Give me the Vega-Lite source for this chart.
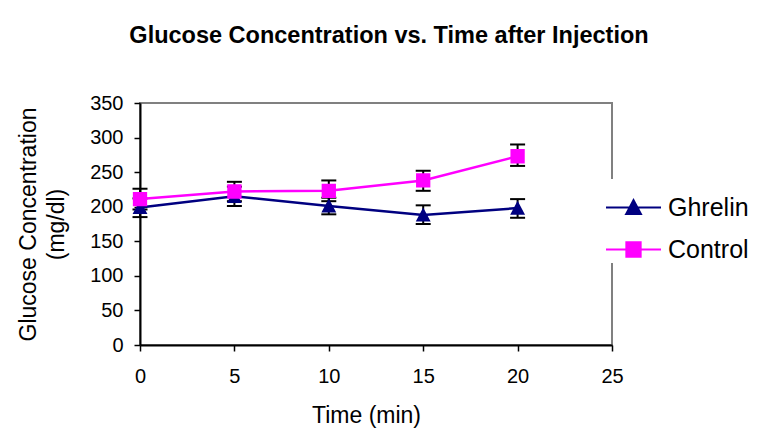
{
  "$schema": "https://vega.github.io/schema/vega-lite/v6.json",
  "autosize": "none",
  "width": 472,
  "height": 242,
  "padding": {"left": 140, "top": 103, "right": 148, "bottom": 87},
  "background": "white",
  "config": {
    "font": "Liberation Sans",
    "view": {"stroke": "#808080", "strokeWidth": 2},
    "axis": {
      "grid": false,
      "domainColor": "black",
      "domainWidth": 2,
      "tickColor": "black",
      "tickWidth": 1.5,
      "tickSize": 6,
      "labelColor": "black",
      "labelFont": "Liberation Sans",
      "labelFontSize": 20,
      "titleColor": "black",
      "titleFont": "Liberation Sans",
      "titleFontSize": 23,
      "titleFontWeight": "normal"
    }
  },
  "title": {
    "text": "Glucose Concentration vs. Time after Injection",
    "font": "Liberation Sans",
    "fontSize": 23.5,
    "fontWeight": "bold",
    "color": "black",
    "anchor": "middle",
    "frame": "group",
    "dx": 13,
    "baseline": "alphabetic",
    "offset": 27
  },
  "data": {
    "values": [
      {"time": 0, "series": "Ghrelin", "glucose": 199, "lo": 185, "hi": 212},
      {"time": 5, "series": "Ghrelin", "glucose": 215, "lo": 201, "hi": 229},
      {"time": 10, "series": "Ghrelin", "glucose": 201, "lo": 189, "hi": 213},
      {"time": 15, "series": "Ghrelin", "glucose": 188, "lo": 175, "hi": 202},
      {"time": 20, "series": "Ghrelin", "glucose": 198, "lo": 184, "hi": 211},
      {"time": 0, "series": "Control", "glucose": 211, "lo": 196, "hi": 226},
      {"time": 5, "series": "Control", "glucose": 222, "lo": 208, "hi": 236},
      {"time": 10, "series": "Control", "glucose": 223, "lo": 208, "hi": 238},
      {"time": 15, "series": "Control", "glucose": 238, "lo": 223, "hi": 252},
      {"time": 20, "series": "Control", "glucose": 273, "lo": 259, "hi": 290}
    ]
  },
  "encoding": {
    "x": {
      "field": "time",
      "type": "quantitative",
      "scale": {"domain": [0, 25], "nice": false, "zero": false},
      "axis": {
        "values": [0, 5, 10, 15, 20, 25],
        "title": "Time (min)",
        "labelFlush": false,
        "labelPadding": 15,
        "labelBaseline": "top",
        "titleX": 226,
        "titleY": 77,
        "titleBaseline": "alphabetic",
        "titleAlign": "center"
      }
    },
    "y": {
      "field": "glucose",
      "type": "quantitative",
      "scale": {"domain": [0, 350], "nice": false},
      "axis": {
        "values": [0, 50, 100, 150, 200, 250, 300, 350],
        "labelOverlap": false,
        "labelFlush": false,
        "labelFontSize": 20,
        "title": ["Glucose Concentration", "(mg/dl)"],
        "labelPadding": 11,
        "titleAngle": -90,
        "titleX": -105,
        "titleY": 121,
        "titleAlign": "center",
        "titleBaseline": "alphabetic",
        "titleLineHeight": 28
      }
    }
  },
  "layer": [
    {
      "mark": {"type": "rule", "color": "black", "strokeWidth": 2},
      "encoding": {
        "y": {"field": "lo", "type": "quantitative"},
        "y2": {"field": "hi"}
      }
    },
    {
      "mark": {"type": "tick", "orient": "horizontal", "color": "black", "size": 15, "thickness": 2, "opacity": 1},
      "encoding": {"y": {"field": "lo", "type": "quantitative"}}
    },
    {
      "mark": {"type": "tick", "orient": "horizontal", "color": "black", "size": 15, "thickness": 2, "opacity": 1},
      "encoding": {"y": {"field": "hi", "type": "quantitative"}}
    },
    {
      "mark": {"type": "line", "strokeWidth": 2.5},
      "encoding": {
        "color": {
          "field": "series",
          "type": "nominal",
          "scale": {"domain": ["Ghrelin", "Control"], "range": ["#000080", "#ff00ff"]}
        },
        "detail": {"field": "series"},
        "order": {"field": "time"}
      }
    },
    {
      "mark": {"type": "point", "filled": true, "opacity": 1, "size": 3025, "strokeWidth": 0},
      "encoding": {
        "color": {
          "field": "series",
          "type": "nominal",
          "legend": {
            "title": null,
            "orient": "none",
            "legendX": 465,
            "legendY": 76,
            "padding": 0,
            "fillColor": "white",
            "symbolSize": 3025,
            "labelFont": "Liberation Sans",
            "labelFontSize": 25,
            "labelColor": "black",
            "labelOffset": 6,
            "rowPadding": 0,
            "symbolOpacity": 1,
            "encode": {
              "symbols": {
                "update": {
                  "shape": {"signal": "datum.value === 'Ghrelin' ? 'M-1,0H1M-0.27,0.24L0,-0.27L0.27,0.24Z' : 'M-1,0H1M-0.26,-0.26H0.26V0.26H-0.26Z'"},
                  "fill": {"signal": "datum.value === 'Ghrelin' ? '#000080' : '#ff00ff'"},
                  "stroke": {"signal": "datum.value === 'Ghrelin' ? '#000080' : '#ff00ff'"},
                  "strokeWidth": {"value": 2},
                  "opacity": {"value": 1}
                }
              }
            }
          }
        },
        "shape": {
          "field": "series",
          "type": "nominal",
          "scale": {
            "domain": ["Ghrelin", "Control"],
            "range": [
              "M-1,0H1M-0.27,0.24L0,-0.27L0.27,0.24Z",
              "M-1,0H1M-0.26,-0.26H0.26V0.26H-0.26Z"
            ]
          }
        }
      }
    }
  ]
}
